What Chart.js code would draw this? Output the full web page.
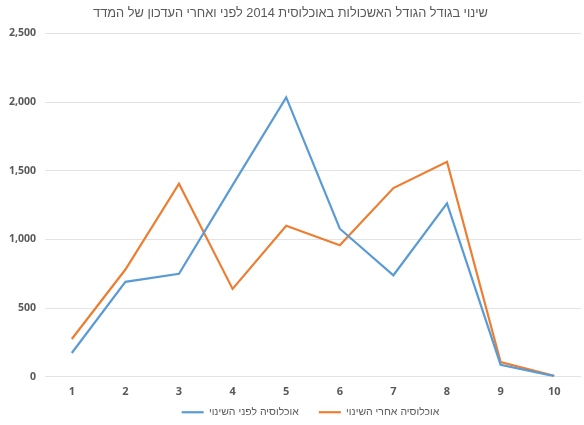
<!DOCTYPE html>
<html>
<head>
<meta charset="utf-8">
<script src="https://cdn.jsdelivr.net/npm/chart.js@4/dist/chart.umd.min.js"></script>
<style>
    body { margin: 0; background: #fff; }
    #wrap { width: 584px; height: 425px; position: relative; }
</style>
</head>
<body>
<div id="wrap"><canvas id="chart"></canvas></div>
<script>
const categories = ['1', '2', '3', '4', '5', '6', '7', '8', '9', '10'];
const beforeValues = [173, 691, 750, 1395, 2034, 1078, 739, 1262, 88, 5];
const afterValues = [275, 781, 1406, 640, 1100, 958, 1374, 1565, 107, 8];
const seriesLabels = ['אוכלוסיה לפני השינוי', 'אוכלוסיה אחרי השינוי'];
const chartTitle = 'שינוי בגודל הגודל האשכולות באוכלוסית 2014 לפני ואחרי העדכון של המדד';

const seriesColors = ['#5B9BD5', '#ED7D31'];
const textColor = '#595959';

// legend: wide gap between items but a short box, text pulled up and nudged right
const legendGap = 20;
const legendBoxHeight = 17;
const legendShift = -19;
const legendOffsetX = 20;
const legendTweak = {
    id: 'legendTweak',
    beforeInit(chart) {
        const legend = chart.legend;
        const fit = legend.fit;
        legend.fit = function () {
            fit.bind(legend)();
            this.height = legendBoxHeight;
        };
        const draw = legend.draw;
        legend.draw = function () {
            const {top, height, left, right} = this;
            this.top = top + legendShift;
            this.height = height - legendShift;
            this.left = left + legendOffsetX;
            this.right = right + legendOffsetX;
            draw.apply(legend, arguments);
            Object.assign(this, {top, height, left, right});
        };
    }
};

const ctx = document.getElementById('chart');
let mainChart = new Chart(ctx, {
    type: 'line',
    data: {
        labels: categories,
        datasets: [beforeValues, afterValues].map((vals, i) => ({
            label: seriesLabels[i],
            data: vals,
            borderColor: seriesColors[i],
            backgroundColor: seriesColors[i],
            borderWidth: 2.2,
            pointRadius: 0,
            lineTension: 0,
        })),
    },
    options: {
        responsive: true,
        maintainAspectRatio: false,
        animation: false,
        layout: { padding: { left: 0, right: 3, top: 0, bottom: 2 } },
        plugins: {
            title: {
                display: true,
                text: chartTitle,
                color: textColor,
                font: { family: 'Liberation Sans', size: 12.8, weight: 'normal' },
                padding: { top: 6, bottom: 12 },
            },
            legend: {
                position: 'bottom',
                labels: {
                    usePointStyle: true,
                    pointStyle: 'line',
                    pointStyleWidth: 22,
                    boxWidth: 22,
                    color: textColor,
                    font: { family: 'Liberation Sans', size: 10.5 },
                    padding: legendGap,
                },
            },
            tooltip: { enabled: false },
        },
        scales: {
            x: {
                offset: true,
                grid: { display: false, drawTicks: false },
                border: { display: false },
                ticks: {
                    color: textColor,
                    font: { family: 'Open Sans', size: 11, weight: 'bold' },
                    padding: 8,
                },
            },
            y: {
                min: 0,
                max: 2500,
                grid: { color: '#e3e3e3', lineWidth: 1, drawTicks: false },
                border: { display: false },
                ticks: {
                    stepSize: 500,
                    color: textColor,
                    font: { family: 'Open Sans', size: 10.5, weight: 'bold' },
                    padding: 9,
                    callback: (v) => v.toLocaleString('en-US'),
                },
            },
        },
    },
    plugins: [legendTweak],
});
</script>
</body>
</html>
